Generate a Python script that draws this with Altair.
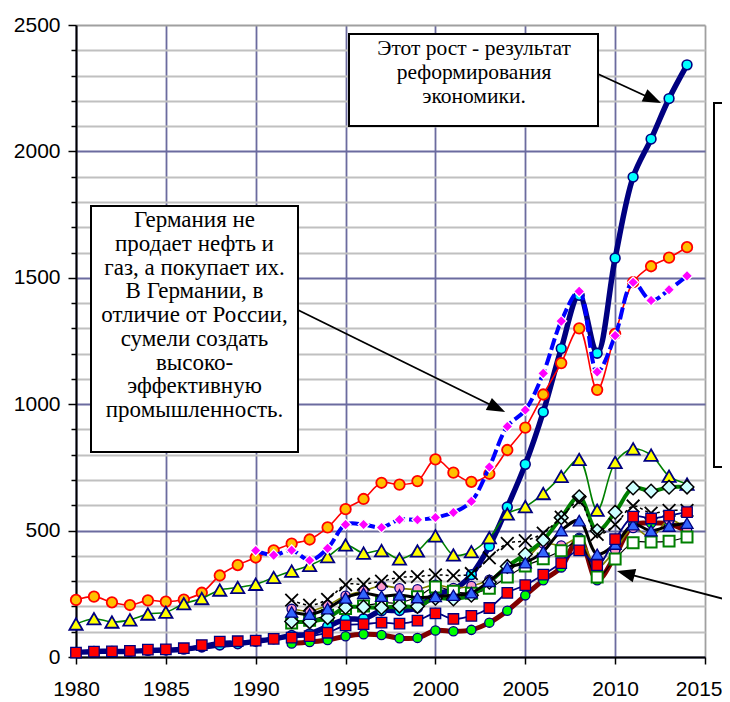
import altair as alt
import pandas as pd

# ---------------- data (exports, bn USD) ----------------
years_all = list(range(1980, 2015))
years_de = list(range(1990, 2015))
years_92 = list(range(1992, 2015))

china = [18.1, 22.0, 22.3, 22.2, 26.1, 27.4, 30.9, 39.4, 47.5, 52.5, 62.1, 71.8, 84.9, 91.7,
         121.0, 148.8, 151.2, 182.8, 183.8, 194.9, 249.2, 266.1, 325.6, 438.2, 593.3, 762.0,
         969.0, 1220.0, 1430.7, 1201.6, 1577.8, 1898.4, 2048.7, 2209.0, 2342.3]
usa = [225.6, 238.7, 216.4, 205.6, 224.0, 218.8, 227.2, 254.1, 322.4, 363.8, 393.6, 421.7,
       448.2, 464.8, 512.6, 584.7, 625.1, 689.2, 682.1, 695.8, 781.9, 729.1, 693.1, 724.8,
       818.8, 907.2, 1038.3, 1162.5, 1299.9, 1056.7, 1278.5, 1482.5, 1545.7, 1579.6, 1621.0]
japan = [130.4, 151.5, 138.4, 146.9, 170.1, 177.2, 210.8, 231.3, 264.9, 275.2, 287.6, 314.8,
         339.9, 362.2, 397.0, 443.1, 411.0, 421.0, 388.0, 419.4, 479.2, 403.5, 416.7, 471.8,
         565.7, 594.9, 646.7, 714.3, 781.4, 580.7, 769.8, 823.2, 798.6, 715.1, 684.0]
korea = [17.5, 21.3, 21.9, 24.4, 29.2, 30.3, 34.7, 47.3, 60.7, 62.4, 65.0, 71.9, 76.6, 82.2,
         96.0, 125.1, 129.7, 136.2, 132.3, 143.7, 172.3, 150.4, 162.5, 193.8, 253.8, 284.4,
         325.5, 371.5, 422.0, 363.5, 466.4, 555.2, 547.9, 559.6, 573.1]
germany = [421.1, 402.8, 422.3, 382.5, 429.7, 523.7, 524.2, 512.4, 543.4, 542.9, 551.8, 571.6,
           615.8, 751.7, 911.8, 977.1, 1121.9, 1328.8, 1446.2, 1127.8, 1271.1, 1482.2, 1410.1,
           1452.7, 1507.6]
russia = [53.6, 59.6, 67.4, 82.4, 89.7, 86.9, 74.4, 75.6, 105.0, 101.9, 107.3, 135.9, 183.2,
          243.8, 303.6, 354.4, 471.6, 303.4, 400.1, 522.0, 529.3, 527.3, 497.8]
france = [225.0, 205.0, 228.0, 286.0, 288.0, 300.0, 315.0, 318.0, 325.0, 322.0, 330.0, 392.0,
          449.0, 460.0, 490.0, 553.0, 615.0, 485.0, 524.0, 597.0, 569.0, 580.0, 580.0]
italy = [178.2, 169.2, 191.4, 234.0, 252.0, 240.4, 245.7, 235.2, 240.0, 244.3, 254.2, 299.5,
         353.5, 373.0, 417.2, 500.2, 539.7, 406.5, 446.8, 523.2, 500.1, 518.1, 529.5]
canada = [134.4, 145.2, 165.4, 192.2, 201.6, 214.4, 214.3, 238.4, 276.6, 259.9, 252.4, 272.1,
          316.5, 360.1, 388.2, 420.5, 455.6, 316.7, 387.5, 452.1, 454.8, 458.4, 474.8]
netherlands = [140.4, 139.1, 155.6, 195.9, 197.4, 194.9, 201.4, 200.3, 232.8, 229.5, 244.3,
               296.0, 358.2, 406.4, 462.4, 551.3, 633.9, 499.0, 572.7, 668.6, 656.3, 671.6, 672.4]
uk = [190.5, 181.6, 204.9, 242.0, 262.1, 281.1, 271.8, 268.2, 285.4, 272.7, 280.7, 305.6,
      347.1, 384.4, 448.5, 441.3, 466.3, 356.3, 422.0, 510.0, 473.6, 542.3, 505.4]

x_ticks = [1980, 1985, 1990, 1995, 2000, 2005, 2010, 2015]
y_ticks = list(range(0, 2600, 100))

note_china = ["Этот рост - результат", "реформирования", "экономики."]
note_germany = ["Германия не", "продает нефть и", "газ, а покупает их.", "В Германии, в",
                "отличие от России,", "сумели создать", "высоко-", "эффективную",
                "промышленность."]

# ---------------- styles ----------------
XMARK = "M-1,-1L1,1M-1,1L1,-1"
series = [
    ("China", years_all, china, dict(color="#000080", strokeWidth=5.5),
     dict(shape="circle", fill="#00FFFF", stroke="#000080", strokeWidth=1.6, size=95)),
    ("USA", years_all, usa, dict(color="#FF0000", strokeWidth=1.6),
     dict(shape="circle", fill="#FFC000", stroke="#FF0000", strokeWidth=1.8, size=110)),
    ("Japan", years_all, japan, dict(color="#008000", strokeWidth=1.6),
     dict(shape="triangle-up", fill="#FFFF00", stroke="#000080", strokeWidth=1.8, size=175)),
    ("Russia", years_92, russia, dict(color="#800000", strokeWidth=5),
     dict(shape="circle", fill="#00FF00", stroke="#000080", strokeWidth=1.3, size=85)),
    ("UK", years_92, uk, dict(color="#808000", strokeWidth=1.6),
     dict(shape="circle", fill="#FF99CC", stroke="#000080", strokeWidth=1.3, size=85)),
    ("Canada", years_92, canada, dict(color="#000000", strokeWidth=1.2),
     dict(shape="square", fill="#FFFFFF", stroke="#008000", strokeWidth=2, size=120)),
    ("Netherlands", years_92, netherlands, dict(color="#008000", strokeWidth=4),
     dict(shape="diamond", fill="#CCFFFF", stroke="#000000", strokeWidth=1.5, size=185)),
    ("France", years_92, france, dict(color="#000000", strokeWidth=1.5, strokeDash=[3, 3]),
     dict(shape=XMARK, fill=None, stroke="#000000", strokeWidth=1.8, size=160)),
    ("Italy", years_92, italy, dict(color="#000000", strokeWidth=3),
     dict(shape="triangle-up", fill="#3366FF", stroke="#000080", strokeWidth=1.3, size=145)),
    ("Korea", years_all, korea, dict(color="#000080", strokeWidth=1.8),
     dict(shape="square", fill="#FF0000", stroke="#000080", strokeWidth=1.3, size=110)),
    ("Germany", years_de, germany, dict(color="#0000FF", strokeWidth=4, strokeDash=[12, 4]),
     dict(shape="diamond", fill="#FF00FF", stroke="#FFFFFF", strokeWidth=1.2, size=120)),
]

# ---------------- scales / axes ----------------
BLUEGRID = "#6b6b9f"
x_axis = alt.Axis(
    values=x_ticks, format="d", title=None, labelFont="Liberation Sans", labelFontSize=21,
    labelColor="black", labelPadding=14, labelFlush=False, labelOverlap=False,
    labelAlign={"condition": {"test": "datum.value >= 2015", "value": "right"},
                "value": "center"},
    labelOffset={"condition": {"test": "datum.value >= 2015", "value": 17}, "value": 0},
    tickSize=7, tickColor="black", tickWidth=1.5, domainColor="black", domainWidth=2,
    grid=True, gridWidth=1.8,
    gridColor={"condition": {"test": "datum.value >= 2015", "value": "#a0a0a0"},
               "value": BLUEGRID},
)
y_axis = alt.Axis(
    values=y_ticks, format="d", title=None, labelFont="Liberation Sans", labelFontSize=21,
    labelColor="black", labelPadding=8, labelOverlap=False, labelFlush=False,
    labelExpr="datum.value % 500 === 0 ? datum.label : ''",
    tickSize={"condition": {"test": "datum.value % 500 === 0", "value": 8}, "value": 5},
    tickColor="black", tickWidth=1.5, domainColor="black", domainWidth=2,
    grid=True, gridWidth=1.8,
    gridColor={"condition": [{"test": "datum.value >= 2500", "value": "#a0a0a0"},
                             {"test": "datum.value % 500 === 0", "value": BLUEGRID}],
               "value": "#c0c0c0"},
)
X = alt.X("year:Q", scale=alt.Scale(domain=[1980, 2015], nice=False, zero=False), axis=x_axis)
Y = alt.Y("value:Q", scale=alt.Scale(domain=[0, 2500], nice=False), axis=y_axis)

layers = []
for name, yrs, vals, ls, ps in series:
    df = pd.DataFrame({"year": yrs, "value": vals})
    layers.append(alt.Chart(df).mark_line(interpolate="catmull-rom", **ls).encode(x=X, y=Y))
    pkw = dict(ps)
    fill = pkw.pop("fill")
    if fill is None:
        pt = alt.Chart(df).mark_point(filled=False, opacity=1, **pkw)
    else:
        pt = alt.Chart(df).mark_point(filled=True, fill=fill, opacity=1, **pkw)
    layers.append(pt.encode(x=X, y=Y))

# ---------------- annotations (pixel positions in the plot area) ----------------
one = pd.DataFrame({"k": [0]})
SERIF = "Liberation Serif, Times New Roman, DejaVu Serif, serif"


def box(x1, x2, y1, y2):
    return alt.Chart(one).mark_rect(fill="white", stroke="black", strokeWidth=2).encode(
        x=alt.value(x1), x2=alt.value(x2), y=alt.value(y1), y2=alt.value(y2))


def arrow(x1, y1, hx, hy, ang):
    line = alt.Chart(one).mark_rule(color="black", strokeWidth=1.8).encode(
        x=alt.value(x1), y=alt.value(y1), x2=alt.value(hx), y2=alt.value(hy))
    head = alt.Chart(one).mark_point(shape="M1,0L-1,-0.75L-1,0.75Z", filled=True, color="black",
                                     opacity=1, size=330, angle=ang).encode(
        x=alt.value(hx), y=alt.value(hy))
    return [line, head]


def note(lines, x, y, fs, lh):
    return alt.Chart(one).mark_text(font=SERIF, fontSize=fs, lineHeight=lh,
                                    align="center", baseline="middle", color="black").encode(
        x=alt.value(x), y=alt.value(y), text=alt.value(lines))


annos = [
    box(638, 720, 78, 442),
    box(648, 720, 510, 615),
    *arrow(648, 574, 549.7, 548.3, 194.7),
    box(273, 522, 9, 101),
    note(note_china, 398, 23.5, 21.5, 24.3),
    *arrow(522, 49, 576.8, 74.2, 24.7),
    box(15, 222, 181, 427),
    note(note_germany, 118.5, 195, 23, 23.75),
    *arrow(222, 285, 421, 383, 26.2),
]

chart = alt.layer(*layers, *annos).properties(
    width=629, height=632,
    autosize=alt.AutoSizeParams(type="none"),
    padding={"left": 68, "top": 17, "right": 17, "bottom": 45},
    background="white",
).configure_view(stroke=None)

chart.save("out.html", embed_options={"renderer": "svg", "actions": False})
